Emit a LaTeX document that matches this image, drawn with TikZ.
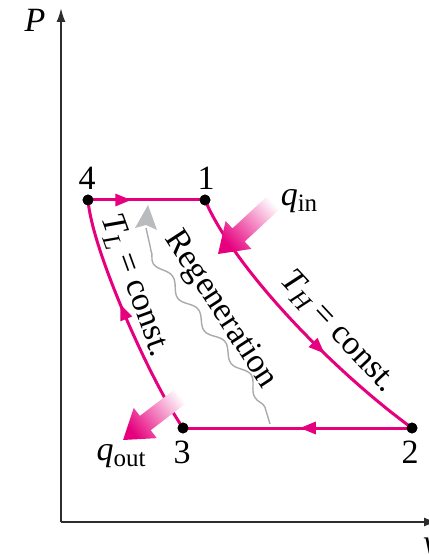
\documentclass[tikz,border=0pt]{standalone}
\usepackage{fontspec}
\setmainfont{Liberation Serif}
\usetikzlibrary{arrows.meta,decorations.pathmorphing,decorations.markings,calc}
\definecolor{cyc}{RGB}{230,0,126}
\definecolor{regen}{RGB}{168,170,173}
\definecolor{regenhead}{RGB}{185,187,190}
\definecolor{axisc}{RGB}{45,45,45}
\newcommand{\lowsub}[1]{\raisebox{-0.38ex}{\fontsize{12.5}{12.5}\selectfont #1}}
\begin{document}
\begin{tikzpicture}[x=0.5pt,y=-0.5pt,
  cycleline/.style={draw=cyc, line width=1.5pt},
  midarrow/.style={postaction={decorate}, decoration={markings, mark=at position #1 with {\arrow[cyc]{Triangle[length=8pt,width=6pt]}}}},
  axisline/.style={draw=axisc, line width=1pt},
  regenline/.style={draw=regen, line width=0.7pt},
  dotn/.style={circle, fill=black, inner sep=0pt, minimum size=5.4pt},
  lab/.style={font=\fontsize{17}{18}\selectfont, inner sep=0pt},
  heatshade/.style={top color=cyc, middle color=cyc!55, bottom color=white}
]
\useasboundingbox (0,0) rectangle (428,555);

% axes
\coordinate (origin) at (61,522);
\coordinate (ytop) at (61,8);
\coordinate (xend) at (438,522);
\draw[axisline, -{Latex[length=7pt,width=4.5pt]}] (origin) -- (ytop);
\draw[axisline, -{Latex[length=7pt,width=4.5pt]}] (origin) -- (xend);
\node[lab] (Plab) at (35,20) {\itshape P};
\node[lab] (vlab) at (431,546) {\itshape v};

% state points
\node[dotn] (n1) at (205,200) {};
\node[dotn] (n2) at (412,428) {};
\node[dotn] (n3) at (183,428) {};
\node[dotn] (n4) at (88,200) {};

% regeneration wavy arrow
\coordinate (rb) at (270,424);
\coordinate (rt) at (146,228);
\coordinate (rtip) at (148,205);
\draw[regenline, decorate, decoration={snake, amplitude=2.3pt, segment length=21pt, pre length=9pt, post length=10pt}]
  (rb) .. controls (270,385) and (148,285) .. (rt);
\fill[regenhead] (rtip) -- (135,228) -- (146,225) -- (157,230) -- cycle;

% cycle
\draw[cycleline, midarrow=0.37] (n4.center) -- (n1.center);
\draw[cycleline, midarrow=0.63] (n1.center) .. controls (235,270) and (335,372) .. (n2.center);
\draw[cycleline, midarrow=0.49] (n2.center) -- (n3.center);
\draw[cycleline, midarrow=0.56] (n3.center) .. controls (150,380) and (92,250) .. (n4.center);
\node[dotn] at (n1) {};
\node[dotn] at (n2) {};
\node[dotn] at (n3) {};
\node[dotn] at (n4) {};

% heat arrows
\coordinate (qinTip) at (218,254);
\begin{scope}[shift={(qinTip)}, rotate=222.8]
\shade[heatshade, shading angle=132.8] (0,0) -- (-14pt,9.5pt) -- (-14pt,4.5pt) -- (-40pt,4.5pt) -- (-40pt,-4.5pt) -- (-14pt,-4.5pt) -- (-14pt,-9.5pt) -- cycle;
\end{scope}
\coordinate (qoutTip) at (123,440);
\begin{scope}[shift={(qoutTip)}, rotate=217.3]
\shade[heatshade, shading angle=127.3] (0,0) -- (-14pt,9.5pt) -- (-14pt,4.5pt) -- (-38pt,4.5pt) -- (-38pt,-4.5pt) -- (-14pt,-4.5pt) -- (-14pt,-9.5pt) -- cycle;
\end{scope}

% labels
\node[lab] (l4) at (87,178) {4};
\node[lab] (l1) at (206,178) {1};
\node[lab] (l3) at (182,452) {3};
\node[lab] (l2) at (410,452) {2};
\node[lab] (qin) at (299,201) {\itshape q\lowsub{\upshape in}};
\node[lab] (qout) at (121,456) {\itshape q\lowsub{\upshape out}};
\node[lab, rotate=-70] (tl) at (135,286) {\itshape T\lowsub{L}\upshape\ = const.};
\node[lab, rotate=-57] (rg) at (220,310) {Regeneration};
\node[lab, rotate=-47] (th) at (338,332) {\itshape T\lowsub{H}\upshape\ = const.};
\end{tikzpicture}
\end{document}
